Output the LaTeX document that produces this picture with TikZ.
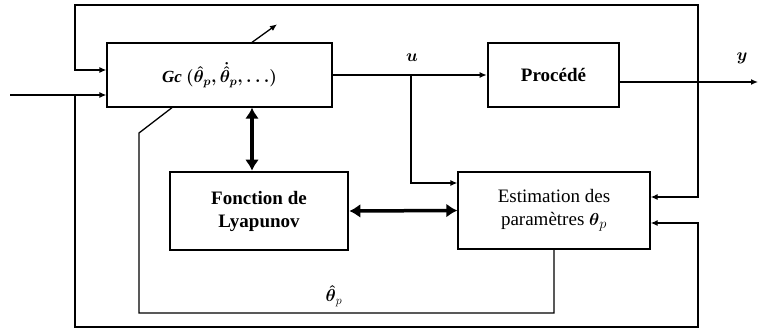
\documentclass[tikz,border=0pt]{standalone}
\usepackage{amsmath}
\usepackage{fontspec}
\setmainfont{Liberation Serif}
\usetikzlibrary{arrows.meta,calc}
\tikzset{
  blk/.style={draw,line width=1.3pt,inner sep=0pt,align=center,font=\fontsize{19}{23}\selectfont},
  bblk/.style={draw,line width=2.6pt,inner sep=0pt,align=center,font=\fontsize{19}{23}\selectfont\bfseries},
  lbl/.style={font=\fontsize{18}{21}\selectfont},
  arr/.style={-{Latex[length=7pt,width=6pt]}},
  barr/.style={{Latex[length=7pt,width=6pt]}-{Latex[length=7pt,width=6pt]}},
  thickarr/.style={line width=3.5pt,{Latex[length=11pt,width=14pt]}-{Latex[length=11pt,width=14pt]}}
}
\begin{document}
\begin{tikzpicture}[x=1pt,y=-1pt,line width=1.3pt]
\useasboundingbox (0,0) rectangle (759,329);
\node[blk,minimum width=225pt,minimum height=64pt,font=\fontsize{17}{20}\selectfont] (gc) at (219.5,75) {\textbf{\textit{Gc}} $\boldsymbol{(\hat{\theta}_p, \dot{\hat{\theta}}_p, \ldots)}$};
\node[bblk,minimum width=131pt,minimum height=64pt] (proc) at (553.5,75) {Procédé};
\node[bblk,minimum width=178pt,minimum height=78pt] (lyap) at (259,211) {Fonction de\\Lyapunov};
\node[blk,minimum width=192pt,minimum height=77pt] (est) at (554,210.5) {Estimation des\\paramètres $\boldsymbol{\theta}_p$};
\coordinate (in) at (10,95);
\coordinate (j1) at (75,95);
\coordinate (tl) at (75,5);
\coordinate (tr) at (698,5);
\coordinate (bl) at (75,327);
\coordinate (br) at (698,327);
\coordinate (ub) at (411,75);
\coordinate (yend) at (758,82);
\coordinate (d1) at (139,133);
\coordinate (d2) at (139,313);
\draw[arr] (in) -- (in -| gc.west);
\draw[arr] (j1) -- (bl) -- (br) |- ([yshift=-12.5pt]est.east);
\draw[barr] ([yshift=5pt]gc.west) -| (tl) -- (tr) |- ([yshift=13.5pt]est.east);
\draw[arr] (gc.east) -- (proc.west);
\draw[arr] (ub) |- ([yshift=27.5pt]est.west);
\node[lbl] (ulab) at (412,58) {$\boldsymbol{u}$};
\draw[arr] ([yshift=-7pt]proc.east) -- (yend);
\node[lbl] (ylab) at (742,58) {$\boldsymbol{y}$};
\draw[arr] ([xshift=32.5pt]gc.north) -- ++(25pt,18pt);
\draw ([xshift=-47.5pt]gc.south) -- (d1) -- (d2) -| (est.south);
\node[lbl] (thlab) at (334,296) {$\boldsymbol{\hat{\theta}}_p$};
\draw[thickarr] ([xshift=32.5pt]gc.south) -- ([xshift=-7pt]lyap.north);
\draw[thickarr] (lyap.east) -- (est.west);
\end{tikzpicture}
\end{document}
